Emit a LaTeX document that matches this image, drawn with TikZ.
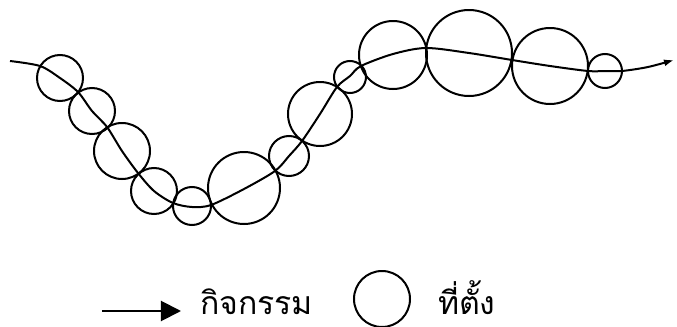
\documentclass[tikz,border=0pt]{standalone}
\usepackage{fontspec}
\newfontfamily\thaifont[Script=Thai]{Loma}
\usetikzlibrary{arrows.meta}

\begin{document}
\begin{tikzpicture}[x=0.5pt, y=-0.5pt, line width=1pt,
  site/.style={draw, circle, inner sep=0pt},
  legendtxt/.style={anchor=base west, inner sep=0pt, font=\thaifont\fontsize{16pt}{18pt}\selectfont}]
% x, y = pixels of the 677 x 327 frame, y pointing down
\useasboundingbox (0,0) rectangle (677,327);
% sites along the path (centre x, centre y, radius)
\foreach \n/\x/\y/\r in {1/60/78/23, 2/92/111/23, 3/122/151/28, 4/154/191/23, 5/192/206/19, 6/244/188/36, 7/289/156/20, 8/320/114/32, 9/350/77/16, 10/393/55/34, 11/469/53/43, 12/550/66/38, 13/605/71/17}
  { \node[site, minimum size=\r pt] (s\n) at (\x,\y) {}; }
% the activity path
\draw[-{Latex[length=5pt,width=3.5pt]}] plot[smooth, tension=0.5] coordinates {(10,61) (40,66) (60,78) (78,92) (92,111) (107,127) (122,151) (138,173) (154,191) (173,203) (192,207) (211,205) (244,189) (275,171) (289,156) (302,141) (320,114) (337,87) (350,76) (361,66) (393,54) (426,48) (469,53) (512,60) (550,66) (588,71) (605,71) (622,71) (648,67) (674,60)};
% legend
\coordinate (la) at (102,311);
\coordinate (lb) at (181,311);
\draw[-{Triangle[length=10pt,width=10pt]}] (la) -- (lb);
\node[legendtxt] (lact) at (199,314) {กิจกรรม};
\node[site, minimum size=28pt] (lsite) at (382,299) {};
\node[legendtxt] (lsitet) at (437,314) {ที่ตั้ง};
\end{tikzpicture}
\end{document}
